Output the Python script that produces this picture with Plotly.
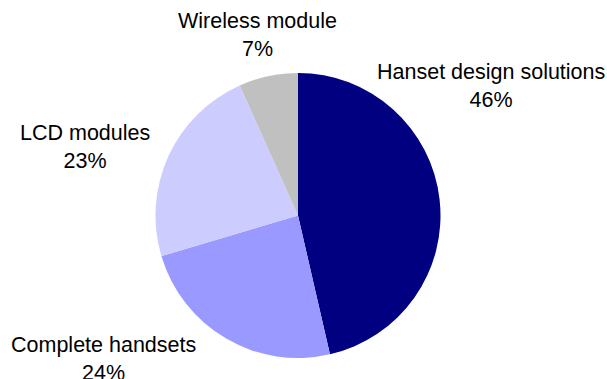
import plotly.graph_objects as go

categories = ["Hanset design solutions", "Complete handsets", "LCD modules", "Wireless module"]
values = [46.4, 24.0, 22.9, 6.7]
pct_labels = ["46%", "24%", "23%", "7%"]
colors = ["#000080", "#9999FF", "#CCCCFF", "#C0C0C0"]

# label block centres in pixels (x, y from top)
label_pos = [(491, 86), (103, 359), (85, 147), (257, 35)]

W, H = 607, 379
cx, cy, r = 298, 215.5, 142.5

fig = go.Figure(go.Pie(
    labels=categories,
    values=values,
    sort=False,
    direction="clockwise",
    rotation=0,
    marker=dict(colors=colors, line=dict(width=0)),
    textinfo="none",
    hoverinfo="label+percent",
    showlegend=False,
    domain=dict(x=[(cx - r) / W, (cx + r) / W], y=[(H - cy - r) / H, (H - cy + r) / H]),
))

for cat, pct, (px, py) in zip(categories, pct_labels, label_pos):
    fig.add_annotation(
        x=px / W, y=1 - py / H, xref="paper", yref="paper",
        text=f"{cat}<br>{pct}", showarrow=False,
        xanchor="center", yanchor="middle", align="center",
        font=dict(family="Liberation Sans, Arial, sans-serif", size=21.5, color="#000000"),
    )

fig.update_layout(
    width=W, height=H,
    margin=dict(l=0, r=0, t=0, b=0),
    paper_bgcolor="white", plot_bgcolor="white",
)

fig.write_html("out.html")
